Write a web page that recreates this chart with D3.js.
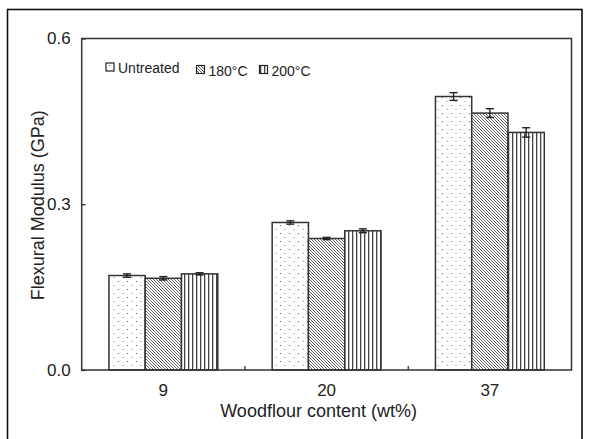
<!DOCTYPE html>
<html><head><meta charset="utf-8">
<script src="https://cdn.jsdelivr.net/npm/d3@7"></script>
<style>body{margin:0;background:#fff}svg{display:block;font-family:"Liberation Sans",Arial,sans-serif}</style>
</head><body>
<svg id="c" width="589" height="439"></svg>
<script>
const categories = ["9", "20", "37"];
const seriesNames = ["Untreated", "180°C", "200°C"];
const untreated = [0.171, 0.267, 0.495];
const treated180 = [0.166, 0.238, 0.465];
const treated200 = [0.174, 0.252, 0.430];
const errUntreated = [0.003, 0.003, 0.007];
const err180 = [0.003, 0.002, 0.008];
const err200 = [0.002, 0.0035, 0.0085];
const yTicks = [0.0, 0.3, 0.6];

const values = [untreated, treated180, treated200];
const errors = [errUntreated, err180, err200];
const patIds = ["pDots", "pDiag", "pVert"];

const svg = d3.select("#c");
const defs = svg.append("defs");
// dots
const p1 = defs.append("pattern").attr("id","pDots").attr("patternUnits","userSpaceOnUse").attr("width",9).attr("height",8);
p1.append("rect").attr("width",9).attr("height",8).attr("fill","#fff");
p1.append("rect").attr("x",1).attr("y",1).attr("width",1).attr("height",1).attr("fill","#666");
p1.append("rect").attr("x",5.5).attr("y",5).attr("width",1).attr("height",1).attr("fill","#888");
// diagonal "\"
const p2 = defs.append("pattern").attr("id","pDiag").attr("patternUnits","userSpaceOnUse").attr("width",3).attr("height",3);
p2.append("rect").attr("width",3).attr("height",3).attr("fill","#fff");
p2.append("path").attr("d","M-1,-1L4,4M-1,2L1,4M2,-1L4,1").attr("stroke","#555").attr("stroke-width",0.9);
// vertical
const p3 = defs.append("pattern").attr("id","pVert").attr("patternUnits","userSpaceOnUse").attr("width",4).attr("height",4);
p3.append("rect").attr("width",4).attr("height",4).attr("fill","#fff");
p3.append("rect").attr("x",0).attr("width",1.3).attr("height",4).attr("fill","#444");

const L = 81.7, R = 571.5, T = 38.5, B = 370;
const x0 = d3.scaleBand().domain(categories).range([L, R]).padding(0);
const x1 = d3.scaleBand().domain(seriesNames).range([0, x0.bandwidth()]).paddingInner(0).paddingOuter(0.75);
const y = d3.scaleLinear().domain([0, 0.6]).range([B, T]);

// outer frame
svg.append("rect").attr("x",7.5).attr("y",9.5).attr("width",574.5).attr("height",440)
  .attr("fill","none").attr("stroke","#111").attr("stroke-width",1.6);

// bars
categories.forEach((c, ci) => {
  seriesNames.forEach((s, si) => {
    const v = values[si][ci];
    svg.append("rect")
      .attr("x", x0(c) + x1(s))
      .attr("y", y(v))
      .attr("width", x1.bandwidth())
      .attr("height", y(0) - y(v))
      .attr("fill", `url(#${patIds[si]})`)
      .attr("stroke", "#333").attr("stroke-width", 1.5);
  });
});
// error bars
categories.forEach((c, ci) => {
  seriesNames.forEach((s, si) => {
    const v = values[si][ci], e = errors[si][ci];
    const cx = x0(c) + x1(s) + x1.bandwidth()/2;
    const g = svg.append("g").attr("stroke","#222").attr("stroke-width",1.4);
    g.append("line").attr("x1",cx).attr("x2",cx).attr("y1",y(v+e)).attr("y2",y(v-e));
    g.append("line").attr("x1",cx-4).attr("x2",cx+4).attr("y1",y(v+e)).attr("y2",y(v+e));
    g.append("line").attr("x1",cx-4).attr("x2",cx+4).attr("y1",y(v-e)).attr("y2",y(v-e));
  });
});

// plot frame
svg.append("rect").attr("x",L).attr("y",T).attr("width",R-L).attr("height",B-T)
  .attr("fill","none").attr("stroke","#333").attr("stroke-width",1.5);

// y axis
const yAxis = d3.axisLeft(y).tickValues(yTicks).tickFormat(d3.format(".1f")).tickSize(-4).tickPadding(11);
const ya = svg.append("g").attr("transform",`translate(${L},0)`).call(yAxis);
ya.select(".domain").remove();
ya.selectAll(".tick line").attr("stroke","#333").attr("stroke-width",1.3);
ya.selectAll(".tick text").attr("font-size",17).attr("fill","#222").attr("font-family","Liberation Sans, Arial, sans-serif");

// x axis: labels at band centers, ticks between groups
const xAxis = d3.axisBottom(x0).tickSize(0).tickPadding(14);
const xa = svg.append("g").attr("transform",`translate(0,${B})`).call(xAxis);
xa.select(".domain").remove();
xa.selectAll(".tick text").attr("font-size",17).attr("fill","#222").attr("font-family","Liberation Sans, Arial, sans-serif");
categories.slice(1).forEach(c => {
  svg.append("line").attr("x1",x0(c)).attr("x2",x0(c)).attr("y1",B).attr("y2",B-4)
    .attr("stroke","#333").attr("stroke-width",1.3);
});

// titles
svg.append("text").attr("x",(L+R)/2 - 8).attr("y",416.5).attr("text-anchor","middle")
  .attr("font-size",18).attr("fill","#222").text("Woodflour content (wt%)");
svg.append("text").attr("transform",`translate(44,${(T+B)/2 + 1}) rotate(-90)`).attr("text-anchor","middle")
  .attr("font-size",18).attr("fill","#222").text("Flexural Modulus (GPa)");

// legend
const legend = [
  {bx:106, by:63, tx:118, ty:72.5},
  {bx:196.5, by:65.5, tx:208.5, ty:76},
  {bx:259.5, by:65.5, tx:271.5, ty:76}
];
seriesNames.forEach((s, si) => {
  const l = legend[si];
  svg.append("rect").attr("x",l.bx).attr("y",l.by).attr("width",8).attr("height",8)
    .attr("fill",`url(#${patIds[si]})`).attr("stroke","#222").attr("stroke-width",1.2);
  svg.append("text").attr("x",l.tx).attr("y",l.ty).attr("font-size",14).attr("fill","#222").text(s);
});
</script>
</body></html>
